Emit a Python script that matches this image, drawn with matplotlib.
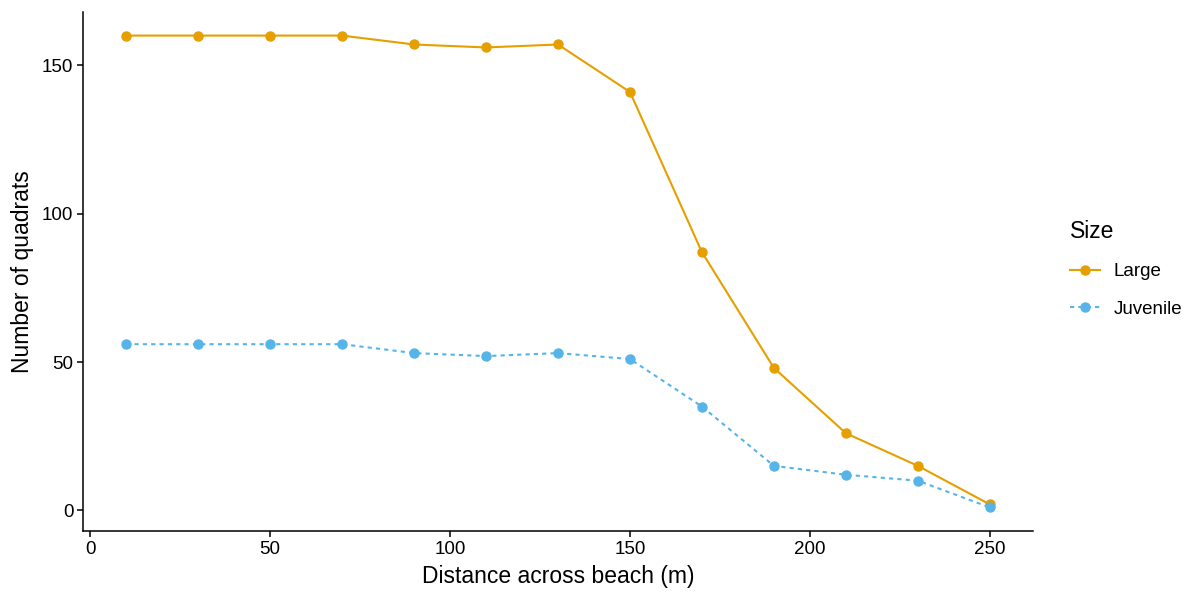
import matplotlib
matplotlib.use("Agg")
import matplotlib.pyplot as plt
from matplotlib.lines import Line2D

plt.rcParams['font.family'] = ['Liberation Sans', 'DejaVu Sans']

distance = [10, 30, 50, 70, 90, 110, 130, 150, 170, 190, 210, 230, 250]
large = [160, 160, 160, 160, 157, 156, 157, 141, 87, 48, 26, 15, 2]
juvenile = [56, 56, 56, 56, 53, 52, 53, 51, 35, 15, 12, 10, 1]
x_ticks = [0, 50, 100, 150, 200, 250]
y_ticks = [0, 50, 100, 150]

c_large = '#E69F00'
c_juv = '#56B4E9'

fig = plt.figure(figsize=(11.92, 5.95), dpi=100)
ax = fig.add_axes([83/1192, 64/595, (1033-83)/1192, (531-12)/595])

ax.plot(distance, large, color=c_large, lw=1.5, marker='o', ms=6.5, label='Large')
ax.plot(distance, juvenile, color=c_juv, lw=1.5, ls=(0, (2, 2)), marker='o', ms=6.5, label='Juvenile')

ax.set_xlim(-2, 262)
ax.set_ylim(-6.95, 167.95)
ax.set_xticks(x_ticks)
ax.set_yticks(y_ticks)
for s in ['top', 'right']:
    ax.spines[s].set_visible(False)
for s in ['left', 'bottom']:
    ax.spines[s].set_linewidth(1.1)
ax.tick_params(axis='both', length=4, width=1.1, labelsize=13.5, colors='black', pad=3)
ax.set_xlabel('Distance across beach (m)', fontsize=16.5, labelpad=5)
ax.set_ylabel('Number of quadrats', fontsize=16.5, labelpad=6)

handles = [
    Line2D([0], [0], color=c_large, lw=1.5, marker='o', ms=6.5),
    Line2D([0], [0], color=c_juv, lw=1.5, ls=(0, (2, 2)), marker='o', ms=6.5),
]
leg = fig.legend(handles, ['Large', 'Juvenile'], title='Size', loc='upper left',
                 bbox_to_anchor=(1053/1192, 1 - 203/595), frameon=False,
                 fontsize=13.5, title_fontsize=16.5, handlelength=1.6,
                 labelspacing=1.08, handletextpad=0.75, alignment='left')

fig.savefig('out.png', dpi=100)
